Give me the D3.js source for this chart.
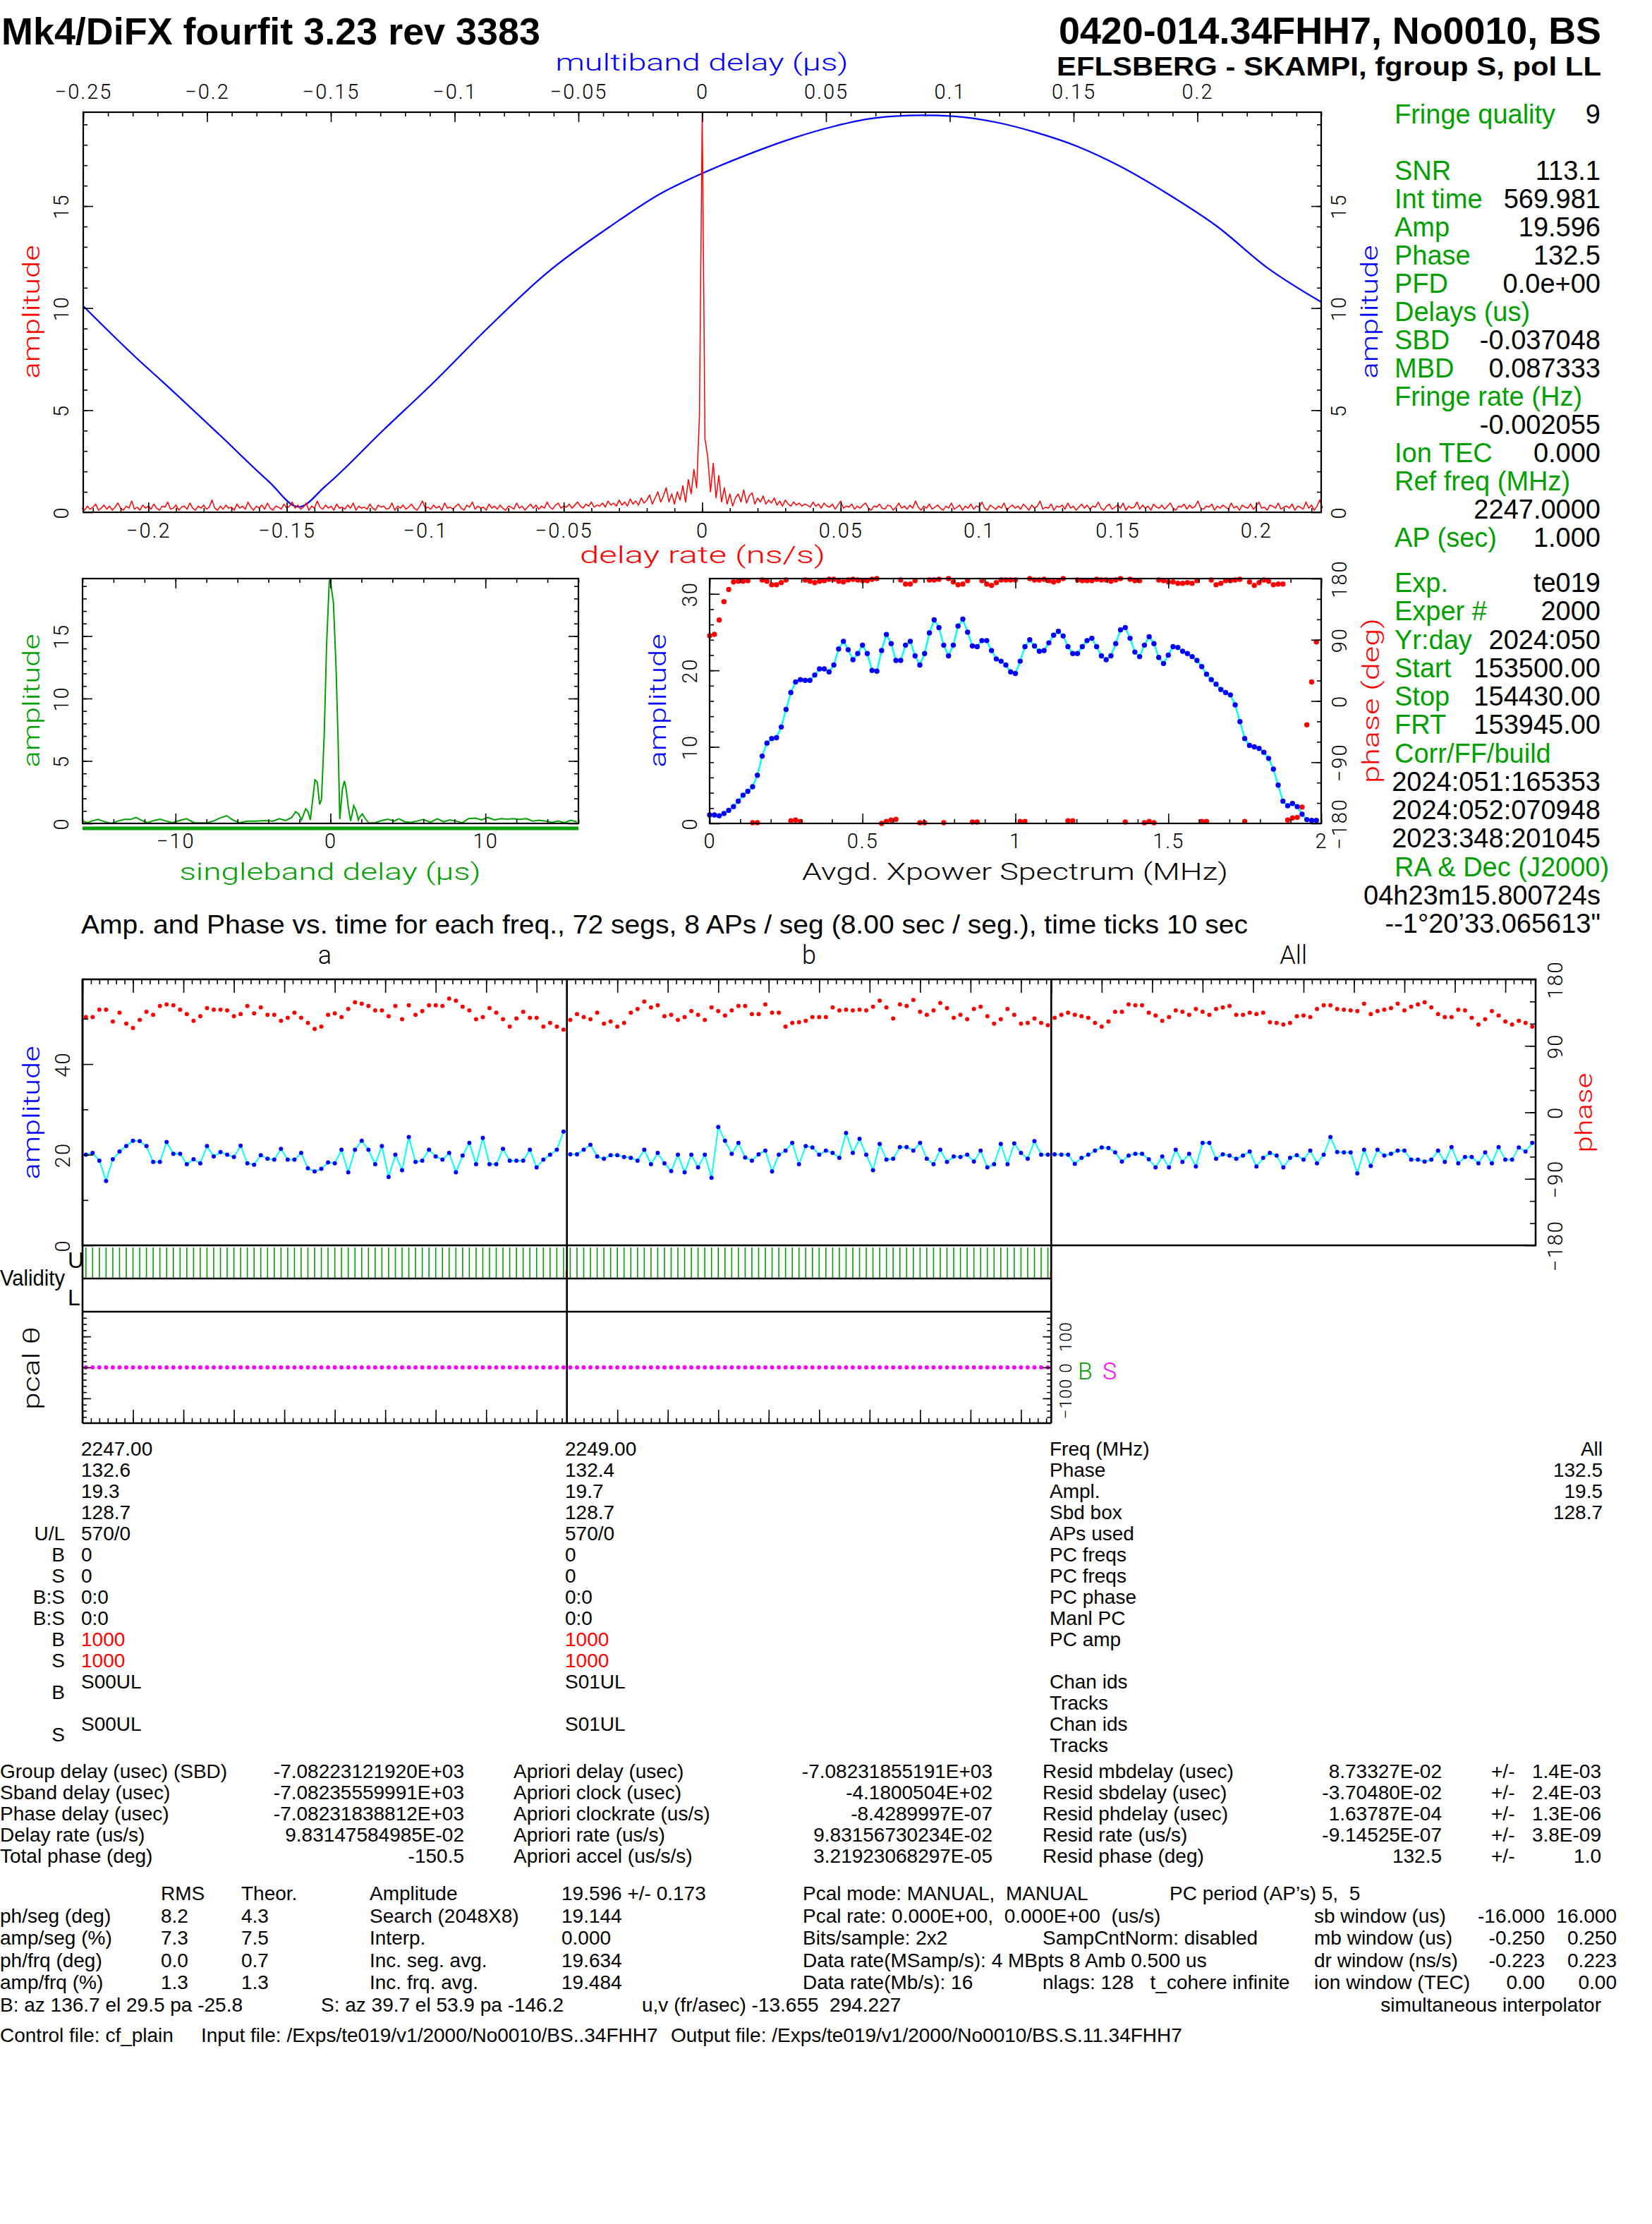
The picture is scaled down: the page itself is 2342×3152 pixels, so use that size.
<!DOCTYPE html>
<html>
<head>
<meta charset="utf-8">
<script src="https://cdn.jsdelivr.net/npm/d3@7"></script>
<style>
  body { margin: 0; background: #fff; }
  svg { display: block; }
</style>
</head>
<body>
<svg id="chart"></svg>
<script>
// ---------------------------------------------------------------
// Data
// ---------------------------------------------------------------

// delay-rate function (red), amplitude, grid step 0.001 ns/s
const drStep = 0.001;
const drLeftStart = -0.224;
const drLeftAmp = [
  .2,.1,.3,.15,.25,.4,.1,.2,.35,.15,.3,.1,.25,.45,.2,.1,.3,.2,.55,.15,.25,.1,.35,.2,.3,
  .15,.4,.2,.1,.3,.25,.5,.15,.2,.35,.1,.25,.3,.15,.45,.2,.1,.3,.2,.35,.15,.25,.6,.2,.1,
  .3,.15,.35,.2,.25,.1,.4,.2,.3,.15,.5,.25,.1,.3,.2,.35,.15,.45,.2,.1,.3,.25,.15,.4,.2,
  .3,.5,.2,.35,.15,.25,.45,.1,.3,.2,.55,.25,.15,.35,.2,.3,.1,.4,.2,.25,.15,.35,.2,.45,.1,
  .3,.2,.25,.15,.4,.2,.1,.35,.25,.3,.15,.2,.45,.1,.3,.2,.35,.15,.25,.4,.2,.1,.3,.55,.2,
  .25,.15,.35,.2,.3,.1,.45,.2,.25,.15,.3,.4,.2,.1,.35,.25,.5,.15,.3,.2,.25,.1,.4,.2,.3,
  .15,.35,.2,.1,.3,.25,.15,.45,.2,.3,.1,.25,.4,.2,.35,.15,.3,.2,.5,.25,.15,.35,.45,.2,.3,
  .25,.4,.2,.35,.5,.3,.2,.4,.3,.5,.25,.35,.3,.45,.25,.55,.35,.45,.3,.6,.35,.5,.3,.65,.4,
  .55,.35,.7,.45,.6,.85,.4,.7,1.0,.5,.8,1.2
];
const drPeakRate = [-0.012,-0.011,-0.010,-0.009,-0.008,-0.007,-0.006,-0.005,-0.004,-0.003,-0.002,-0.001,
  0,0.001,0.002,0.003,0.004,0.005,0.006,0.007,0.008,0.009,0.010,0.011,0.012];
const drPeakAmp = [.5,.9,.4,1.0,.6,1.3,.5,1.6,.9,2.1,1.2,4.7,19.6,3.6,2.7,1.0,2.4,.7,1.8,.5,1.2,.4,.9,.3,.7];
const drRightStart = 0.013;
const drRightAmp = [
  .9,.5,1.1,.45,.8,.95,.4,.7,.5,.8,.4,.6,.45,.7,.35,.55,.3,.6,.4,.3,.5,.35,.45,.3,.4,
  .35,.25,.5,.3,.4,.2,.45,.3,.25,.4,.15,.35,.55,.2,.3,.25,.4,.15,.3,.2,.35,.45,.2,.1,.3,
  .25,.4,.2,.15,.35,.3,.1,.25,.45,.2,.3,.15,.35,.2,.55,.25,.1,.3,.2,.4,.15,.25,.35,.2,.1,
  .3,.2,.45,.15,.25,.35,.1,.3,.2,.4,.15,.3,.25,.5,.2,.1,.35,.25,.15,.3,.2,.45,.1,.25,.35,
  .2,.3,.15,.4,.25,.1,.35,.2,.3,.55,.15,.25,.2,.4,.1,.3,.25,.35,.15,.45,.2,.3,.1,.25,.4,
  .2,.35,.15,.3,.25,.5,.2,.1,.3,.4,.15,.25,.35,.2,.45,.1,.3,.2,.25,.5,.15,.35,.2,.3,.1,
  .4,.25,.2,.35,.15,.3,.45,.2,.1,.3,.25,.4,.15,.35,.2,.3,.55,.2,.15,.3,.25,.4,.1,.3,.2,
  .35,.25,.15,.45,.2,.3,.1,.35,.25,.2,.4,.15,.3,.5,.2,.25,.1,.35,.3,.2,.45,.15,.25,.3,.2,
  .4,.1,.3,.25,.15,.5,.2,.35,.1,.3,.6,.2
];

// multiband delay function (blue)
const mbdDelay = [-0.25,-0.228,-0.218,-0.195,-0.175,-0.163,-0.152,-0.129,-0.109,-0.086,-0.063,-0.036,-0.017,0,
  0.02,0.036,0.053,0.069,0.089,0.102,0.119,0.135,0.152,0.168,0.188,0.208,0.228,0.25];
const mbdAmp = [10.1,7.5,6.4,3.8,1.5,0.26,1.3,4.0,6.3,9.1,11.7,14.1,15.6,16.6,
  17.6,18.3,18.9,19.3,19.45,19.4,19.1,18.6,17.9,17.0,15.6,14.0,12.0,10.3];

const mbdTicks = [-0.25,-0.2,-0.15,-0.1,-0.05,0,0.05,0.1,0.15,0.2];
const drTicks = [-0.2,-0.15,-0.1,-0.05,0,0.05,0.1,0.15,0.2];
const ampTicks = [0,5,10,15];

// singleband delay function (green)
const sbdDelay = [-16.0,-15.66,-15.4,-15.0,-14.6,-14.15,-13.7,-13.3,-12.9,-12.55,-12.2,-11.8,-11.4,-11.0,-10.6,
  -10.2,-9.75,-9.3,-8.8,-8.4,-8.0,-7.55,-7.15,-6.7,-6.3,-5.9,-5.35,-4.8,-4.25,-3.7,-3.3,-2.9,-2.5,-2.25,-2.05,
  -1.87,-1.6,-1.45,-1.3,-1.15,-1.0,-0.85,-0.7,-0.58,-0.4,-0.25,-0.08,-0.03,0.19,0.36,0.49,0.6,0.77,0.9,1.0,
  1.15,1.3,1.4,1.5,1.65,1.8,1.92,2.06,2.25,2.47,2.88,3.3,3.7,4.12,4.4,4.8,5.2,5.6,6.0,6.45,6.9,7.3,7.7,8.1,
  8.5,8.9,9.35,9.75,10.15,10.6,11.0,11.4,11.8,12.2,12.65,13.05,13.45,13.9,14.3,14.7,15.1,15.5,15.9];
const sbdAmp = [0.19,0.06,0.19,0.32,0.15,0,0.19,0.32,0.32,0.47,0.25,0.06,0.23,0.34,0.19,
  0.06,0.23,0.38,0.06,0.04,0.04,0.19,0.42,0.62,0.28,0.06,0.19,0.19,0.23,0.19,0.38,0.23,0.47,0.94,0.75,
  0.28,1.17,0.94,0.28,1.89,3.49,3.3,1.51,1.92,7.2,14.3,19.3,19.6,17.7,12.5,6.8,0.34,2.74,3.4,2.83,
  1.32,0.19,0.75,1.42,1.04,0.28,0.57,0.75,0.38,0.04,0.06,0.23,0.34,0.19,0.38,0.13,0.09,0.19,0.32,0.09,0.38,0.13,0.28,0.19,
  0.04,0.38,0.42,0.28,0.47,0.28,0.38,0.34,0.38,0.32,0.38,0.19,0.25,0.19,0.09,0.19,0.06,0.25,0.13];
const sbdTicks = [-10,0,10];

// averaged cross-power spectrum, 128 points over 0..2 MHz
const specStep = 2 / 128;
const specAmp = [1.1,1.1,1.0,1.3,1.7,2.2,2.9,3.7,4.2,4.8,
  6.3,8.8,10.5,11.1,11.2,12.6,14.9,17.1,18.5,18.8,
  18.7,18.7,19.4,20.2,20.2,19.8,20.7,22.8,23.8,22.7,
  21.4,22.2,23.3,22.2,20.0,19.9,22.6,24.7,23.5,21.3,
  21.3,23.3,23.8,21.9,20.7,22.2,24.9,26.6,25.6,23.3,
  21.9,23.3,25.8,26.7,25.0,23.2,23.1,23.9,23.9,22.6,
  21.5,21.2,20.7,19.8,19.6,21.2,23.1,24.0,23.2,22.5,
  22.6,23.6,24.6,25.1,24.5,23.1,22.2,22.2,23.1,23.9,
  24.2,23.1,21.9,21.4,21.9,23.5,25.3,25.6,24.2,22.4,
  21.8,23.3,24.4,23.5,21.7,20.9,22.0,23.1,23.0,22.5,
  22.2,21.8,21.3,20.5,19.5,18.8,18.2,17.5,17.1,16.8,
  15.5,13.3,11.1,10.2,10.0,9.8,9.3,8.5,7.1,5.0,
  2.9,2.3,2.6,2.2,1.2,0.5,0.4,0.4];
const specPhase = [96,98,119,146,164,175,176,176,177,-179,-179,178,176,171,171,174,178,-176,-175,-177,
  178,176,174,176,177,179,179,176,175,178,179,178,177,177,179,180,-180,-177,-175,-174,
  178,172,172,177,-179,-179,178,178,179,-179,180,175,171,172,177,-178,-178,177,172,170,
  174,178,178,178,178,-177,-177,180,178,178,179,177,175,177,180,-176,-176,178,177,177,
  177,179,178,178,176,178,180,-178,179,177,177,-179,-177,-179,178,177,175,175,173,173,
  174,173,177,-177,-177,178,171,173,177,177,178,179,-177,175,170,174,178,176,171,172,
  172,-175,-172,-171,-156,-35,28,87];
const specTicks = [0,0.5,1,1.5,2];
const specAmpTicks = [0,10,20,30];
const phaseTicks = [-180,-90,0,90,180];

// amplitude and phase per segment (72 segs of 8 s) for channels a, b and All
const segSec = 8;
const ampA = [20.0,20.4,18.7,14.2,19.0,20.7,21.9,23.1,23.0,21.9,18.4,18.4,22.8,20.2,20.2,17.9,19.0,18.1,21.9,19.6,
  20.6,20.0,19.5,22.0,18.1,17.8,19.9,19.1,18.9,21.3,18.9,18.9,20.4,17.0,16.3,16.9,18.3,18.1,21.1,16.1,
  21.1,23.1,21.1,17.9,21.9,15.1,20.0,16.6,23.9,18.4,18.7,21.1,19.6,18.9,20.4,16.1,19.8,22.6,17.9,23.7,
  17.9,17.9,21.3,18.7,18.7,18.7,21.1,17.2,18.9,20.0,21.1,25.1];
const phA = [129,129,139,139,123,135,120,114,125,136,132,144,146,145,139,133,124,130,141,139,
  139,138,130,133,144,134,142,132,132,124,128,135,128,121,113,116,132,134,129,140,
  149,147,144,138,138,130,144,126,145,132,137,145,145,144,154,151,143,138,126,129,
  141,135,126,116,127,136,128,128,116,121,116,112];
const ampB = [20.1,20.1,21.1,22.2,19.6,19.1,19.9,19.9,19.5,19.3,18.7,21.1,17.9,20.4,18.1,16.4,20.0,16.1,20.0,17.2,
  20.0,14.9,26.1,23.1,20.2,22.6,19.4,18.7,20.1,20.9,16.3,20.0,20.9,22.6,17.9,21.9,21.6,20.0,20.9,20.4,
  19.3,24.8,20.4,23.5,20.0,16.6,22.4,18.9,19.1,21.7,21.7,20.9,22.6,19.1,17.9,21.1,18.4,19.6,19.5,20.0,
  18.5,20.9,17.2,17.9,22.4,17.9,22.5,20.4,19.1,23.0,20.0,20.0];
const phB = [125,133,129,126,135,120,123,116,121,135,140,150,142,145,130,132,125,129,137,132,
  125,142,137,131,138,144,144,133,133,146,135,135,116,121,122,124,129,129,129,142,
  138,139,138,139,138,143,151,142,127,146,144,152,136,132,138,148,141,128,132,126,
  140,143,130,120,126,140,132,120,121,127,121,118];
const ampAll = [20.1,20.0,20.0,18.0,19.3,20.0,20.9,21.6,21.5,20.5,18.5,19.8,20.2,20.2,19.0,17.2,19.6,17.2,21.1,18.4,
  20.2,17.4,22.6,22.6,19.1,20.1,19.8,19.1,19.8,20.7,17.4,19.3,20.4,19.8,17.2,19.3,19.9,18.9,20.9,18.1,
  20.0,23.9,20.6,20.5,20.5,15.9,21.1,17.5,21.1,19.8,20.2,20.9,20.9,18.9,18.9,18.5,18.9,20.9,18.4,21.7,
  18.1,19.5,19.5,18.1,20.5,18.1,21.7,18.9,18.9,21.6,20.7,22.6];
const phAll = [128,132,135,132,130,128,121,116,123,136,136,146,145,145,135,131,124,129,138,136,
  132,140,136,132,140,142,144,132,132,135,133,135,122,121,119,121,130,131,129,140,
  145,145,140,139,138,137,147,133,137,139,141,147,138,143,146,149,142,133,129,129,
  139,138,128,119,126,137,131,123,119,124,121,116];
const tsAmpTicks = [0,20,40];
const pcalTicks = [-100,0,100];

// phase-cal phase per segment (all zero)
const pcalA = [0,0,0,0,0,0,0,0,0,0,0,0,0,0,0,0,0,0,0,0,0,0,0,0,0,0,0,0,0,0,0,0,0,0,0,0,
  0,0,0,0,0,0,0,0,0,0,0,0,0,0,0,0,0,0,0,0,0,0,0,0,0,0,0,0,0,0,0,0,0,0,0,0];
const pcalB = [0,0,0,0,0,0,0,0,0,0,0,0,0,0,0,0,0,0,0,0,0,0,0,0,0,0,0,0,0,0,0,0,0,0,0,0,
  0,0,0,0,0,0,0,0,0,0,0,0,0,0,0,0,0,0,0,0,0,0,0,0,0,0,0,0,0,0,0,0,0,0,0,0];
// segments whose validity flag is drawn in red (last, partial segment)
const redFlagSegs = [71];

// right-hand info panel
const infoTop = [["Fringe quality","9"], null, ["SNR","113.1"], ["Int time","569.981"], ["Amp","19.596"],
  ["Phase","132.5"], ["PFD","0.0e+00"], ["Delays (us)",""], ["SBD","-0.037048"], ["MBD","0.087333"],
  ["Fringe rate (Hz)",""], ["","-0.002055"], ["Ion TEC","0.000"], ["Ref freq (MHz)",""], ["","2247.0000"],
  ["AP (sec)","1.000"]];
const infoBottom = [["Exp.","te019"], ["Exper #","2000"], ["Yr:day","2024:050"], ["Start","153500.00"],
  ["Stop","154430.00"], ["FRT","153945.00"], ["Corr/FF/build",""], ["","2024:051:165353"],
  ["","2024:052:070948"], ["","2023:348:201045"], ["RA & Dec (J2000)",""], ["","04h23m15.800724s"],
  ["","--1°20’33.065613\""]];

// per-channel table
const chanRowLabels = ["","","","","U/L","B","S","B:S","B:S","B","S"];
const chanA = ["2247.00","132.6","19.3","128.7","570/0","0","0","0:0","0:0","1000","1000"];
const chanB = ["2249.00","132.4","19.7","128.7","570/0","0","0","0:0","0:0","1000","1000"];
const chanNames = ["Freq (MHz)","Phase","Ampl.","Sbd box","APs used","PC freqs","PC freqs","PC phase","Manl PC","PC amp"];
const chanAll = ["All","132.5","19.5","128.7"];
const chanIdsA = ["S00UL","S00UL"];
const chanIdsB = ["S01UL","S01UL"];

// fit results
const fitLabels = ["Group delay (usec) (SBD)","Sband delay (usec)","Phase delay (usec)","Delay rate (us/s)","Total phase (deg)"];
const fitValues = ["-7.08223121920E+03","-7.08235559991E+03","-7.08231838812E+03","9.83147584985E-02","-150.5"];
const aprioriLabels = ["Apriori delay (usec)","Apriori clock (usec)","Apriori clockrate (us/s)","Apriori rate (us/s)","Apriori accel (us/s/s)"];
const aprioriValues = ["-7.08231855191E+03","-4.1800504E+02","-8.4289997E-07","9.83156730234E-02","3.21923068297E-05"];
const residLabels = ["Resid mbdelay (usec)","Resid sbdelay (usec)","Resid phdelay (usec)","Resid rate (us/s)","Resid phase (deg)"];
const residValues = ["8.73327E-02","-3.70480E-02","1.63787E-04","-9.14525E-07","132.5"];
const residErrors = ["1.4E-03","2.4E-03","1.3E-06","3.8E-09","1.0"];

const rmsLabels = ["","ph/seg (deg)","amp/seg (%)","ph/frq (deg)","amp/frq (%)"];
const rmsValues = ["RMS","8.2","7.3","0.0","1.3"];
const theorValues = ["Theor.","4.3","7.5","0.7","1.3"];
const ampLabels = ["Amplitude","Search (2048X8)","Interp.","Inc. seg. avg.","Inc. frq. avg."];
const ampValues = ["19.596 +/- 0.173","19.144","0.000","19.634","19.484"];
const pcalInfo = ["Pcal mode: MANUAL,  MANUAL","Pcal rate: 0.000E+00,  0.000E+00  (us/s)","Bits/sample: 2x2",
  "Data rate(MSamp/s): 4 MBpts 8 Amb 0.500 us","Data rate(Mb/s): 16"];
const windowLabels = ["sb window (us)","mb window (us)","dr window (ns/s)","ion window (TEC)"];
const windowLo = ["-16.000","-0.250","-0.223","0.00"];
const windowHi = ["16.000","0.250","0.223","0.00"];

// ---------------------------------------------------------------
// Drawing
// ---------------------------------------------------------------
const W = 2342, H = 3152;
const HV = "'Liberation Sans', Arial, Helvetica, sans-serif";
const PG = "Roboto, 'DejaVu Sans', sans-serif";
const GREEN = "#00a000";

const svg = d3.select("#chart").attr("width", W).attr("height", H);
svg.append("rect").attr("width", W).attr("height", H).attr("fill", "#fff");

// plain text helper; rot turns it to read bottom-to-top
function label(x, y, str, o = {}) {
  const t = svg.append("text")
    .attr("x", x)
    .attr("y", y)
    .attr("font-family", o.font || HV)
    .attr("font-size", o.size || 28)
    .attr("font-weight", o.weight || 400)
    .attr("fill", o.color || "#000")
    .attr("text-anchor", o.anchor || "start")
    .style("white-space", "pre")
    .text(str);
  if (o.len) t.attr("textLength", o.len).attr("lengthAdjust", "spacingAndGlyphs");
  if (o.rot) t.attr("transform", `rotate(-90,${x},${y})`);
  return t;
}
const pgLabel = (x, y, str, o) => label(x, y, str, Object.assign({ font: PG, weight: 300, size: 34, anchor: "middle" }, o));

// inward ticks, major (optionally labelled) and minor
function axis(side, scale, at, major, minor, o = {}) {
  const make = { top: d3.axisTop, bottom: d3.axisBottom, left: d3.axisLeft, right: d3.axisRight }[side];
  const tr = side === "top" || side === "bottom" ? `translate(0,${at})` : `translate(${at},0)`;
  if (minor) {
    svg.append("g")
      .attr("transform", tr)
      .call(make(scale).tickValues(minor).tickSize(-(o.minorLen || 6)).tickFormat(""))
      .call(g => g.select(".domain").remove())
      .selectAll("line").attr("stroke", "#000").attr("stroke-width", 1.6);
  }
  const g = svg.append("g")
    .attr("transform", tr)
    .call(make(scale)
      .tickValues(major)
      .tickSize(-(o.majorLen || 14))
      .tickPadding(o.pad || 18)
      .tickFormat(o.noLabels ? "" : d3.format("~g")));
  g.select(".domain").remove();
  g.selectAll("line").attr("stroke", "#000").attr("stroke-width", 1.6);
  g.selectAll("text")
    .attr("font-family", PG)
    .attr("font-weight", 300)
    .attr("font-size", o.fs || 29)
    .attr("letter-spacing", o.ls === undefined ? 2 : o.ls)
    .attr("fill", "#000");
  if (o.rot !== undefined) {
    g.selectAll("text")
      .attr("transform", "rotate(-90)")
      .attr("x", 0)
      .attr("y", o.rot)
      .attr("dy", 0)
      .attr("text-anchor", "middle");
  }
  return g;
}

function frame(x0, y0, x1, y1, sw = 2.2) {
  svg.append("rect")
    .attr("x", x0).attr("y", y0)
    .attr("width", x1 - x0).attr("height", y1 - y0)
    .attr("fill", "none").attr("stroke", "#000").attr("stroke-width", sw);
}

function hline(x0, x1, y, sw = 2.2) {
  svg.append("line").attr("x1", x0).attr("x2", x1).attr("y1", y).attr("y2", y)
    .attr("stroke", "#000").attr("stroke-width", sw);
}
function vline(x, y0, y1, sw = 2.2) {
  svg.append("line").attr("x1", x).attr("x2", x).attr("y1", y0).attr("y2", y1)
    .attr("stroke", "#000").attr("stroke-width", sw);
}

// ---------- header ----------
label(2, 63, "Mk4/DiFX fourfit 3.23 rev 3383", { size: 54, weight: 700, len: 764 });
label(2270, 62, "0420-014.34FHH7, No0010, BS", { size: 54, weight: 700, anchor: "end", len: 769 });
label(2270, 107, "EFLSBERG - SKAMPI, fgroup S, pol LL", { size: 37, weight: 700, anchor: "end", len: 772 });

// ---------- fringe plot: delay rate + multiband delay ----------
const fr = { x0: 118, x1: 1873, y0: 159, y1: 726 };
const xDR = d3.scaleLinear().domain([-0.2235, 0.2235]).range([fr.x0, fr.x1]);
const xMB = d3.scaleLinear().domain([-0.25, 0.25]).range([fr.x0, fr.x1]);
const yFr = d3.scaleLinear().domain([0, 19.6]).range([fr.y1, fr.y0]);

const drSeries = [
  ...drLeftAmp.map((a, i) => [drLeftStart + i * drStep, a]),
  ...drPeakRate.map((r, i) => [r, drPeakAmp[i]]),
  ...drRightAmp.map((a, i) => [drRightStart + i * drStep, a]),
];
const mbdSeries = mbdDelay.map((d, i) => [d, mbdAmp[i]]);

svg.append("path")
  .datum(mbdSeries)
  .attr("fill", "none")
  .attr("stroke", "#0000ff")
  .attr("stroke-width", 2.2)
  .attr("d", d3.line().x(d => xMB(d[0])).y(d => yFr(d[1])).curve(d3.curveMonotoneX));

svg.append("path")
  .datum(drSeries)
  .attr("fill", "none")
  .attr("stroke", "#ff0000")
  .attr("stroke-width", 1.5)
  .attr("stroke-linejoin", "round")
  .attr("d", d3.line().x(d => xDR(d[0])).y(d => yFr(d[1])));

frame(fr.x0, fr.y0, fr.x1, fr.y1);
axis("bottom", xDR, fr.y1, drTicks, d3.range(-0.22, 0.2201, 0.01), { pad: 15 });
axis("top", xMB, fr.y0, mbdTicks, d3.range(-0.25, 0.2501, 0.01), { pad: 19 });
axis("left", yFr, fr.x0, ampTicks, d3.range(1, 20, 1), { rot: -21 });
axis("right", yFr, fr.x1, ampTicks, d3.range(1, 20, 1), { rot: 35 });

pgLabel(995, 100, "multiband delay (μs)", { color: "#0000ff", len: 415 });
pgLabel(996, 798, "delay rate (ns/s)", { color: "#ff0000", len: 348 });
pgLabel(56, 442, "amplitude", { color: "#ff0000", rot: true, len: 189 });
pgLabel(1953, 442, "amplitude", { color: "#0000ff", rot: true, len: 189 });

// ---------- singleband delay ----------
const sb = { x0: 117, x1: 820, y0: 820, y1: 1167 };
const xSB = d3.scaleLinear().domain([-16, 16]).range([sb.x0, sb.x1]);
const ySB = d3.scaleLinear().domain([0, 19.6]).range([sb.y1, sb.y0]);

svg.append("path")
  .datum(sbdDelay.map((d, i) => [d, sbdAmp[i]]))
  .attr("fill", "none")
  .attr("stroke", GREEN)
  .attr("stroke-width", 2)
  .attr("d", d3.line().x(d => xSB(d[0])).y(d => ySB(d[1])));

frame(sb.x0, sb.y0, sb.x1, sb.y1);
// search window bar
svg.append("line")
  .attr("x1", xSB(-16)).attr("x2", xSB(16))
  .attr("y1", sb.y1 + 7).attr("y2", sb.y1 + 7)
  .attr("stroke", GREEN).attr("stroke-width", 5);
axis("bottom", xSB, sb.y1, sbdTicks, d3.range(-16, 16.01, 2), { pad: 14 });
axis("top", xSB, sb.y0, sbdTicks, d3.range(-16, 16.01, 2), { noLabels: true });
axis("left", ySB, sb.x0, ampTicks, d3.range(1, 20, 1), { rot: -20 });
axis("right", ySB, sb.x1, ampTicks, d3.range(1, 20, 1), { noLabels: true });

pgLabel(468, 1247, "singleband delay (μs)", { color: GREEN, len: 427 });
pgLabel(56, 993, "amplitude", { color: GREEN, rot: true, len: 189 });

// ---------- cross-power spectrum ----------
const sp = { x0: 1006, x1: 1873, y0: 820, y1: 1167 };
const xSP = d3.scaleLinear().domain([0, 2]).range([sp.x0, sp.x1]);
const ySP = d3.scaleLinear().domain([0, 32]).range([sp.y1, sp.y0]);
const yPH = d3.scaleLinear().domain([-180, 180]).range([sp.y1, sp.y0]);

svg.append("path")
  .datum(specAmp)
  .attr("fill", "none")
  .attr("stroke", "#00ffff")
  .attr("stroke-width", 2.5)
  .attr("d", d3.line().x((d, i) => xSP(i * specStep)).y(d => ySP(d)));

svg.append("g")
  .selectAll("circle")
  .data(specAmp)
  .join("circle")
  .attr("cx", (d, i) => xSP(i * specStep))
  .attr("cy", d => ySP(d))
  .attr("r", 3.7)
  .attr("fill", "#0000ff");

svg.append("g")
  .selectAll("circle")
  .data(specPhase)
  .join("circle")
  .attr("cx", (d, i) => xSP(i * specStep))
  .attr("cy", d => yPH(d))
  .attr("r", 3.7)
  .attr("fill", "#ff0000");

frame(sp.x0, sp.y0, sp.x1, sp.y1);
axis("bottom", xSP, sp.y1, specTicks, d3.range(0, 2.01, 0.1), { pad: 14 });
axis("top", xSP, sp.y0, specTicks, d3.range(0, 2.01, 0.1), { noLabels: true });
axis("left", ySP, sp.x0, specAmpTicks, d3.range(2, 32, 2), { rot: -18 });
axis("right", yPH, sp.x1, phaseTicks, d3.range(-150, 180, 30), { rot: 36 });

pgLabel(1439, 1247, "Avgd. Xpower Spectrum (MHz)", { len: 604 });
pgLabel(944, 993, "amplitude", { color: "#0000ff", rot: true, len: 189 });
pgLabel(1955, 993, "phase (deg)", { color: "#ff0000", rot: true, len: 234 });

// ---------- info panel ----------
infoTop.forEach((row, i) => {
  if (!row) return;
  const y = 175 + 40 * i;
  if (row[0]) label(1977, y, row[0], { size: 38, color: GREEN });
  if (row[1]) label(2269, y, row[1], { size: 38, anchor: "end" });
});
infoBottom.forEach((row, i) => {
  const y = 839 + 40.25 * i;
  if (row[0]) label(1977, y, row[0], { size: 38, color: GREEN });
  if (row[1]) label(2269, y, row[1], { size: 38, anchor: "end" });
});

// ---------- amplitude / phase vs time ----------
const ts = { x0: 117, x1: 2177, y0: 1388, y1: 1765, v1: 1812, v2: 1859, p1: 2017 };
const pw = (ts.x1 - ts.x0) / 3;
const yTA = d3.scaleLinear().domain([0, 58.7]).range([ts.y1, ts.y0]);
const yTP = d3.scaleLinear().domain([-180, 180]).range([ts.y1, ts.y0]);
const yPC = d3.scaleLinear().domain([-180, 180]).range([ts.p1, ts.v2]);

label(115, 1323, "Amp. and Phase vs. time for each freq., 72 segs, 8 APs / seg (8.00 sec / seg.), time ticks 10 sec",
  { size: 36, len: 1654 });

const panels = [
  { name: "a", amp: ampA, ph: phA, pcal: pcalA },
  { name: "b", amp: ampB, ph: phB, pcal: pcalB },
  { name: "All", amp: ampAll, ph: phAll, pcal: null },
];
const nSegs = ampA.length;

panels.forEach((p, k) => {
  const xT = d3.scaleLinear().domain([0, nSegs * segSec]).range([ts.x0 + k * pw, ts.x0 + (k + 1) * pw]);
  const segX = i => xT((i + 0.5) * segSec);

  pgLabel(xT(nSegs * segSec / 2), 1366, p.name, { size: 36 });

  // time ticks on the top edge
  axis("top", xT, ts.y0, d3.range(0, 576, 60), d3.range(10, 576, 10),
    { noLabels: true, majorLen: 19, minorLen: 7 });

  svg.append("path")
    .datum(p.amp)
    .attr("fill", "none")
    .attr("stroke", "#00ffff")
    .attr("stroke-width", 2)
    .attr("d", d3.line().x((d, i) => segX(i)).y(d => yTA(d)));

  svg.append("g")
    .selectAll("circle")
    .data(p.amp)
    .join("circle")
    .attr("cx", (d, i) => segX(i))
    .attr("cy", d => yTA(d))
    .attr("r", 3)
    .attr("fill", "#0000ff");

  svg.append("g")
    .selectAll("circle")
    .data(p.ph)
    .join("circle")
    .attr("cx", (d, i) => segX(i))
    .attr("cy", d => yTP(d))
    .attr("r", 3)
    .attr("fill", "#ff0000");

  if (p.pcal) {
    // validity flags (upper sideband valid in every segment)
    svg.append("g")
      .selectAll("line")
      .data(d3.range(nSegs))
      .join("line")
      .attr("x1", i => segX(i)).attr("x2", i => segX(i))
      .attr("y1", ts.y1 + 3).attr("y2", ts.v1 - 1)
      .attr("stroke", GREEN).attr("stroke-width", 1.6);

    svg.append("g")
      .selectAll("line")
      .data(redFlagSegs)
      .join("line")
      .attr("x1", i => segX(i) + 4).attr("x2", i => segX(i) + 4)
      .attr("y1", ts.v1 - 11).attr("y2", ts.v1 - 1)
      .attr("stroke", "#ff0000").attr("stroke-width", 2);

    svg.append("g")
      .selectAll("circle")
      .data(p.pcal)
      .join("circle")
      .attr("cx", (d, i) => segX(i))
      .attr("cy", d => yPC(d))
      .attr("r", 3)
      .attr("fill", "#ff00ff");

    axis("bottom", xT, ts.p1, d3.range(0, 576, 60), d3.range(10, 576, 10),
      { noLabels: true, majorLen: 19, minorLen: 7 });
  }
});

// frames and dividers
frame(ts.x0, ts.y0, ts.x1, ts.y1, 2.6);
vline(ts.x0, ts.y0, ts.p1, 2.6);
vline(ts.x0 + pw, ts.y0, ts.p1, 2.6);
vline(ts.x0 + 2 * pw, ts.y0, ts.p1, 2.6);
hline(ts.x0, ts.x0 + 2 * pw, ts.v1, 2.6);
hline(ts.x0, ts.x0 + 2 * pw, ts.v2, 2.6);
hline(ts.x0, ts.x0 + 2 * pw, ts.p1, 2.6);

axis("left", yTA, ts.x0, tsAmpTicks, [10, 30, 50], { rot: -18, majorLen: 15, minorLen: 8 });
axis("right", yTP, ts.x1, phaseTicks, d3.range(-150, 180, 30), { rot: 38, majorLen: 15, minorLen: 8 });
axis("left", yPC, ts.x0, pcalTicks, d3.range(-160, 180, 20), { noLabels: true, majorLen: 12, minorLen: 6 });
axis("right", yPC, ts.x0 + 2 * pw, pcalTicks, d3.range(-160, 180, 20),
  { rot: 29, fs: 24, ls: 1, majorLen: 12, minorLen: 6 });

pgLabel(56, 1577, "amplitude", { color: "#0000ff", rot: true, len: 189 });
pgLabel(2257, 1577, "phase", { color: "#ff0000", rot: true, len: 113 });
pgLabel(56, 1939, "pcal θ", { rot: true, len: 118 });
label(0, 1822, "Validity", { size: 32, len: 92 });
label(96, 1797, "U", { size: 32 });
label(96, 1850, "L", { size: 32 });
pgLabel(1528, 1955, "B", { color: GREEN, anchor: "start" });
pgLabel(1563, 1955, "S", { color: "#ff00ff", anchor: "start" });

// ---------- channel table ----------
chanA.forEach((v, i) => {
  const y = 2063 + 30 * i;
  const red = i >= 9 ? "#ff0000" : "#000";
  if (chanRowLabels[i]) label(92, y, chanRowLabels[i], { anchor: "end" });
  label(115, y, v, { color: red });
  label(801, y, chanB[i], { color: red });
});
chanNames.forEach((v, i) => label(1488, 2063 + 30 * i, v));
chanAll.forEach((v, i) => label(2272, 2063 + 30 * i, v, { anchor: "end" }));
["B", "S"].forEach((s, i) => {
  const y = 2393 + 60 * i;
  label(92, y + 15, s, { anchor: "end" });
  label(115, y, chanIdsA[i]);
  label(801, y, chanIdsB[i]);
  label(1488, y, "Chan ids");
  label(1488, y + 30, "Tracks");
});

// ---------- fit summary ----------
fitLabels.forEach((v, i) => {
  const y = 2520 + 30 * i;
  label(0, y, v);
  label(658, y, fitValues[i], { anchor: "end" });
  label(728, y, aprioriLabels[i]);
  label(1407, y, aprioriValues[i], { anchor: "end" });
  label(1478, y, residLabels[i]);
  label(2044, y, residValues[i], { anchor: "end" });
  label(2114, y, "+/-");
  label(2270, y, residErrors[i], { anchor: "end" });
});

rmsLabels.forEach((v, i) => {
  const y = 2693 + 31.5 * i;
  label(0, y, v);
  label(228, y, rmsValues[i]);
  label(342, y, theorValues[i]);
  label(524, y, ampLabels[i]);
  label(796, y, ampValues[i]);
  label(1138, y, pcalInfo[i]);
  if (i > 0) {
    label(1863, y, windowLabels[i - 1]);
    label(2190, y, windowLo[i - 1], { anchor: "end" });
    label(2292, y, windowHi[i - 1], { anchor: "end" });
  }
});
label(1658, 2693, "PC period (AP’s) 5,  5");
label(1478, 2756, "SampCntNorm: disabled");
label(1478, 2819, "nlags: 128   t_cohere infinite");

label(0, 2851, "B: az 136.7 el 29.5 pa -25.8");
label(455, 2851, "S: az 39.7 el 53.9 pa -146.2");
label(910, 2851, "u,v (fr/asec) -13.655  294.227");
label(2270, 2851, "simultaneous interpolator", { anchor: "end" });
label(0, 2894, "Control file: cf_plain");
label(285, 2894, "Input file: /Exps/te019/v1/2000/No0010/BS..34FHH7");
label(951, 2894, "Output file: /Exps/te019/v1/2000/No0010/BS.S.11.34FHH7");
</script>
</body>
</html>
